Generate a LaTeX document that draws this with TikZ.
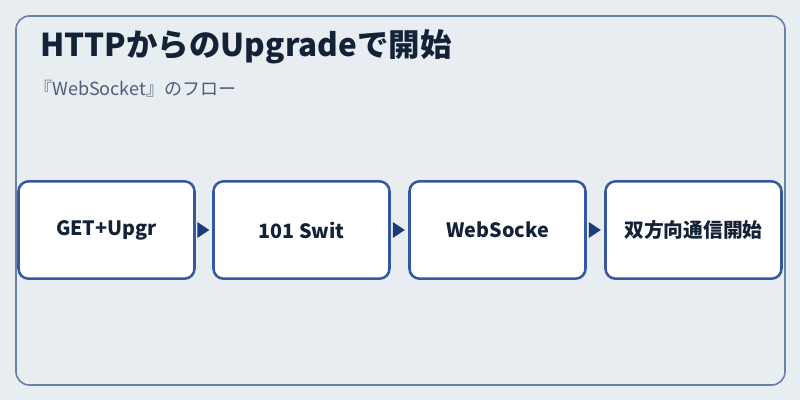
\documentclass[tikz,border=0pt]{standalone}
\usepackage{fontspec}
\setmainfont{Noto Sans CJK JP}
\definecolor{bg}{HTML}{E8EDF2}
\definecolor{outer}{HTML}{6A80A8}
\definecolor{boxc}{HTML}{3558A0}
\definecolor{navy}{HTML}{1E3A7A}
\definecolor{titlec}{HTML}{142238}
\definecolor{subc}{HTML}{4E5E78}
\begin{document}
\begin{tikzpicture}[x=0.75pt,y=-0.75pt,
  stepbox/.style={draw=boxc,line width=1.9pt,fill=white,rounded corners=7.5pt,minimum width=132pt,minimum height=73pt,font=\fontsize{14.8pt}{17pt}\selectfont\bfseries,text=titlec},
  tri/.style={fill=navy,draw=none}]
\useasboundingbox (0,0) rectangle (800,400);
\fill[bg] (0,0) rectangle (800,400);
\draw[outer,line width=1.2pt,rounded corners=10pt] (16,16) rectangle (785,385);
\node[anchor=west,inner sep=0pt,font=\fontsize{23.6pt}{27pt}\selectfont\bfseries,text=titlec] (title) at (40,47) {HTTPからのUpgradeで開始};
\node[anchor=west,inner sep=0pt,font=\fontsize{13.5pt}{16pt}\selectfont,text=subc] (sub) at (34,89) {『WebSocket』のフロー};
\node[stepbox] (a) at (106.5,230) {\raisebox{-1.5pt}{GET+Upgr}};
\node[stepbox] (b) at (301.5,230) {\raisebox{-1.5pt}{101 Swit}};
\node[stepbox] (c) at (497.5,230) {\raisebox{-1.5pt}{WebSocke}};
\node[stepbox] (d) at (693.5,230) {\raisebox{-1.5pt}{双方向通信開始}};
\foreach \p/\q in {a/b,b/c,c/d}{
  \path (\p.east) -- (\q.west) coordinate[pos=0.5] (m\p);
  \fill[navy] ([xshift=-5pt,yshift=6pt]m\p) -- ([xshift=4pt]m\p) -- ([xshift=-5pt,yshift=-6pt]m\p) -- cycle;
}
\end{tikzpicture}
\end{document}
